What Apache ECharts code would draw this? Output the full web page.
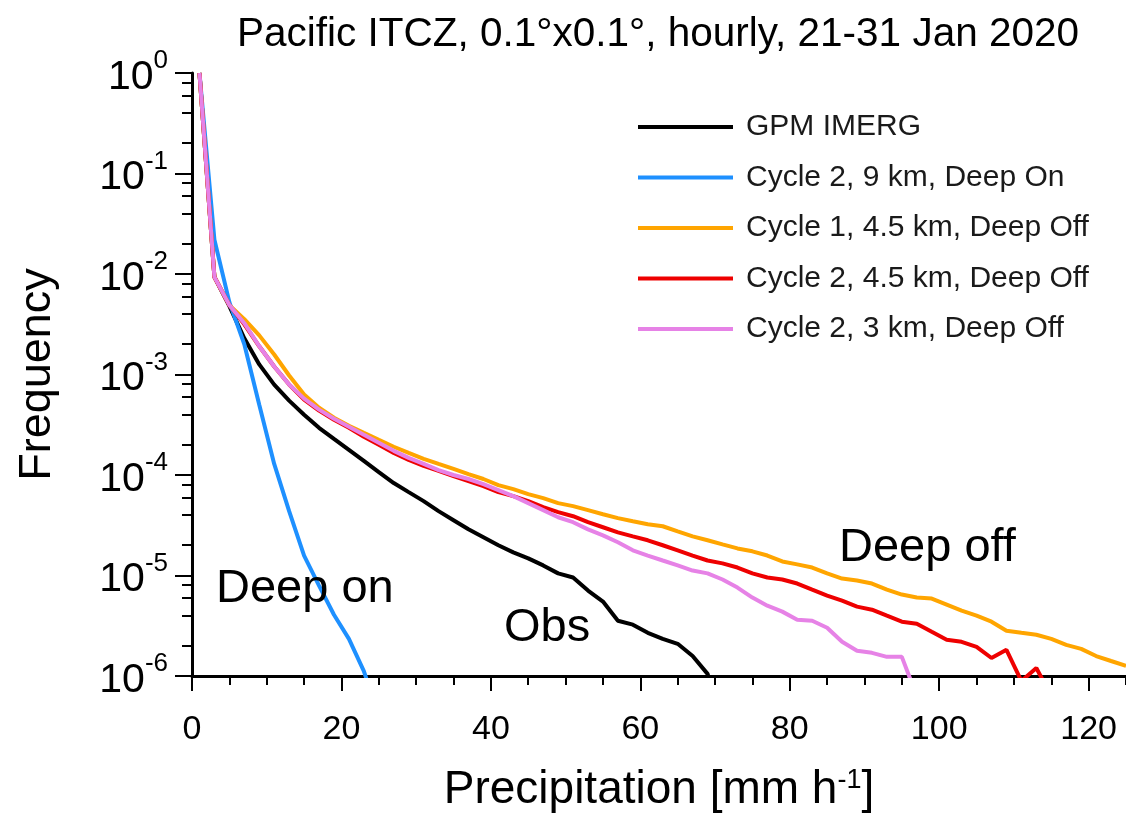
<!DOCTYPE html>
<html><head><meta charset="utf-8">
<script src="https://cdn.jsdelivr.net/npm/echarts@6/dist/echarts.min.js"></script>
<style>html,body{margin:0;padding:0;background:#fff}#c{width:1126px;height:815px}</style>
</head><body><div id="c"></div>
<script>
// Bin centres (mm/h)
const xBins = [1,3,5,7,9,11,13,15,17,19,21,23,25,27,29,31,33,35,37,39,41,43,45,47,49,51,53,55,57,59,61,63,65,67,69,71,73,75,77,79,81,83,85,87,89,91,93,95,97,99,101,103,105,107,109,111,113,115,117,119,121,123,125];

// Frequencies
const gpmImerg = [1,9.33e-3,4.79e-3,2.29e-3,1.26e-3,7.94e-4,5.50e-4,3.98e-4,2.95e-4,2.29e-4,1.78e-4,1.38e-4,1.07e-4,8.32e-5,6.76e-5,5.50e-5,4.37e-5,3.55e-5,2.88e-5,2.40e-5,2.00e-5,1.70e-5,1.48e-5,1.26e-5,1.05e-5,9.55e-6,7.08e-6,5.50e-6,3.55e-6,3.24e-6,2.69e-6,2.34e-6,2.09e-6,1.58e-6,1.05e-6,3.16e-7];
const c2_9km_on = [1,2.19e-2,5.25e-3,2.00e-3,5.01e-4,1.29e-4,4.37e-5,1.58e-5,7.94e-6,4.07e-6,2.34e-6,1.12e-6,3.98e-7];
const c1_45km_off = [1,9.33e-3,4.90e-3,3.55e-3,2.45e-3,1.58e-3,9.77e-4,6.31e-4,4.68e-4,3.72e-4,3.09e-4,2.63e-4,2.24e-4,1.91e-4,1.66e-4,1.45e-4,1.29e-4,1.15e-4,1.02e-4,9.12e-5,7.94e-5,7.24e-5,6.46e-5,5.89e-5,5.25e-5,4.90e-5,4.47e-5,4.07e-5,3.72e-5,3.47e-5,3.24e-5,3.09e-5,2.75e-5,2.45e-5,2.24e-5,2.04e-5,1.86e-5,1.74e-5,1.58e-5,1.38e-5,1.29e-5,1.20e-5,1.05e-5,9.33e-6,8.91e-6,8.32e-6,7.24e-6,6.46e-6,6.03e-6,5.89e-6,5.13e-6,4.47e-6,3.98e-6,3.47e-6,2.82e-6,2.69e-6,2.57e-6,2.34e-6,2.04e-6,1.86e-6,1.58e-6,1.41e-6,1.26e-6];
const c2_45km_off = [1,9.33e-3,4.90e-3,3.16e-3,1.91e-3,1.20e-3,7.94e-4,5.62e-4,4.37e-4,3.55e-4,2.95e-4,2.40e-4,2.00e-4,1.66e-4,1.41e-4,1.23e-4,1.10e-4,9.77e-5,8.71e-5,7.76e-5,6.76e-5,6.17e-5,5.50e-5,4.79e-5,4.27e-5,3.89e-5,3.39e-5,3.02e-5,2.69e-5,2.45e-5,2.24e-5,2.00e-5,1.78e-5,1.58e-5,1.41e-5,1.32e-5,1.20e-5,1.05e-5,9.55e-6,9.12e-6,8.32e-6,7.24e-6,6.31e-6,5.62e-6,4.90e-6,4.57e-6,3.98e-6,3.47e-6,3.31e-6,2.75e-6,2.29e-6,2.19e-6,1.95e-6,1.51e-6,1.82e-6,8.91e-7,1.20e-6,6.31e-7];
const c2_3km_off = [1,9.33e-3,4.90e-3,3.24e-3,1.91e-3,1.20e-3,7.94e-4,5.75e-4,4.47e-4,3.63e-4,3.02e-4,2.51e-4,2.09e-4,1.74e-4,1.48e-4,1.29e-4,1.12e-4,1.00e-4,9.12e-5,8.13e-5,7.08e-5,6.17e-5,5.25e-5,4.47e-5,3.80e-5,3.39e-5,2.88e-5,2.51e-5,2.14e-5,1.78e-5,1.58e-5,1.41e-5,1.26e-5,1.12e-5,1.05e-5,9.12e-6,7.59e-6,6.03e-6,5.01e-6,4.37e-6,3.63e-6,3.55e-6,3.02e-6,2.19e-6,1.78e-6,1.70e-6,1.55e-6,1.55e-6,6.31e-7];

const seriesNames = ['GPM IMERG','Cycle 2, 9 km, Deep On','Cycle 1, 4.5 km, Deep Off','Cycle 2, 4.5 km, Deep Off','Cycle 2, 3 km, Deep Off'];
const seriesValues = [gpmImerg, c2_9km_on, c1_45km_off, c2_45km_off, c2_3km_off];
const seriesColors = ['#000000','#1E90FF','#FFA500','#EE0000','#E682E6'];

// Tick values
const xMajorTicks = [0,20,40,60,80,100,120];
const xMinorTicks = [5,10,15,25,30,35,45,50,55,65,70,75,85,90,95,105,110,115,125];
const yMajorTicks = [1e-6,1e-5,1e-4,1e-3,1e-2,1e-1,1];
const yMinorTicks = [2e-6,4e-6,6e-6,8e-6,2e-5,4e-5,6e-5,8e-5,2e-4,4e-4,6e-4,8e-4,2e-3,4e-3,6e-3,8e-3,2e-2,4e-2,6e-2,8e-2,2e-1,4e-1,6e-1,8e-1];

const FONT = '"Liberation Sans", Arial, Helvetica, sans-serif';

const chart = echarts.init(document.getElementById('c'), null, {renderer:'canvas'});

const series = seriesValues.map((vals, i) => ({
  name: seriesNames[i],
  type: 'line',
  data: vals.map((v, j) => [xBins[j], v]),
  showSymbol: false,
  symbol: 'none',
  smooth: false,
  clip: true,
  lineStyle: {color: seriesColors[i], width: 4},
  itemStyle: {color: seriesColors[i]}
}));

const option = {
  backgroundColor: '#ffffff',
  animation: false,
  grid: {left: 192, top: 73, right: 0, bottom: 139, containLabel: false, outerBoundsMode: 'none'},
  legend: {
    orient: 'vertical', left: 633, top: 107,
    data: seriesNames.map(n => ({name: n, icon: 'rect'})),
    itemWidth: 95, itemHeight: 4, itemGap: 20.5,
    textStyle: {fontFamily: FONT, fontSize: 30, color: '#1a1a1a', padding: [0,0,0,8], lineHeight: 30},
    selectedMode: false
  },
  xAxis: [{
    type: 'value', min: 0, max: 125,
    name: 'Precipitation [mm h{sup|-1}]',
    nameLocation: 'middle', nameGap: 91,
    nameTextStyle: {fontFamily: FONT, fontSize: 46, color: '#000',
      rich: {sup: {fontFamily: FONT, fontSize: 27, verticalAlign: 'top', color: '#000'}}},
    axisLine: {show: true, onZero: false, lineStyle: {color: '#000', width: 3}},
    axisTick: {show: true, inside: false, length: 15, customValues: xMajorTicks, lineStyle: {color: '#000', width: 2}},
    axisLabel: {show: true, margin: 37, customValues: xMajorTicks, fontFamily: FONT, fontSize: 34, color: '#000'},
    splitLine: {show: false}
  }, {
    type: 'value', min: 0, max: 125, position: 'bottom',
    axisLine: {show: false},
    axisTick: {show: true, inside: false, length: 9, customValues: xMinorTicks, lineStyle: {color: '#000', width: 2}},
    axisLabel: {show: false},
    splitLine: {show: false}
  }],
  yAxis: [{
    type: 'log', logBase: 10, min: 1e-6, max: 1,
    name: 'Frequency', nameLocation: 'middle', nameGap: 132, nameRotate: 90,
    nameTextStyle: {fontFamily: FONT, fontSize: 45, color: '#000'},
    axisLine: {show: true, lineStyle: {color: '#000', width: 3}},
    axisTick: {show: true, inside: false, length: 17, customValues: yMajorTicks, lineStyle: {color: '#000', width: 2}},
    axisLabel: {
      show: true, margin: 24, customValues: yMajorTicks,
      formatter: v => '{b|10}{s|' + Math.round(Math.log10(v)) + '}',
      rich: {
        b: {fontFamily: FONT, fontSize: 41, color: '#000', lineHeight: 50, verticalAlign: 'bottom'},
        s: {fontFamily: FONT, fontSize: 26, color: '#000', verticalAlign: 'top', lineHeight: 26}
      }
    },
    splitLine: {show: false}
  }, {
    type: 'log', logBase: 10, min: 1e-6, max: 1, position: 'left',
    axisLine: {show: false},
    axisTick: {show: true, inside: false, length: 10, customValues: yMinorTicks, lineStyle: {color: '#000', width: 2}},
    axisLabel: {show: false},
    splitLine: {show: false}
  }],
  graphic: [
    {type: 'text', x: 658, y: 35, style: {text: 'Pacific ITCZ, 0.1°x0.1°, hourly, 21-31 Jan 2020', font: '40.5px ' + FONT, fill: '#000', align: 'center', verticalAlign: 'middle'}},
    {type: 'text', x: 216, y: 589, z: 100, style: {text: 'Deep on', font: '47px ' + FONT, fill: '#000', align: 'left', verticalAlign: 'middle'}},
    {type: 'text', x: 504, y: 628, z: 100, style: {text: 'Obs', font: '47px ' + FONT, fill: '#000', align: 'left', verticalAlign: 'middle'}},
    {type: 'text', x: 839, y: 548, z: 100, style: {text: 'Deep off', font: '47px ' + FONT, fill: '#000', align: 'left', verticalAlign: 'middle'}}
  ],
  series: series
};
chart.setOption(option);
</script>
</body></html>
